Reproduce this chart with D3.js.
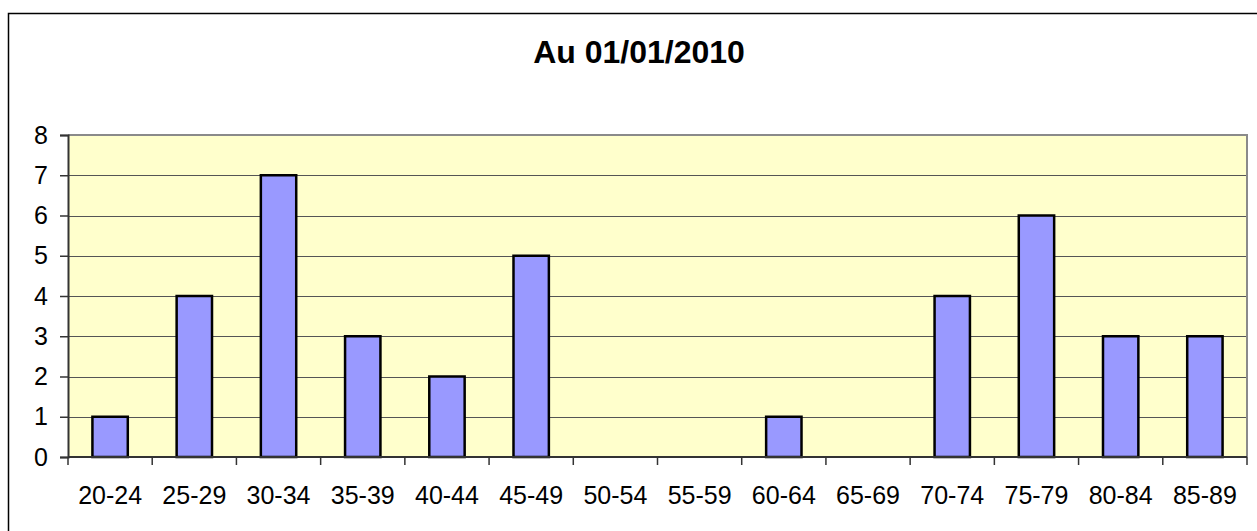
<!DOCTYPE html>
<html>
<head>
<meta charset="utf-8">
<script src="https://cdn.jsdelivr.net/npm/d3@7"></script>
<style>
  body { margin: 0; background: #ffffff; }
  svg { display: block; }
</style>
</head>
<body>
<div id="chart"></div>
<script>
// data
var chartTitle = "Au 01/01/2010";
var ageGroups = ["20-24", "25-29", "30-34", "35-39", "40-44", "45-49", "50-54",
                 "55-59", "60-64", "65-69", "70-74", "75-79", "80-84", "85-89"];
var counts = [1, 4, 7, 3, 2, 5, 0, 0, 1, 0, 4, 6, 3, 3];
var yTicks = [0, 1, 2, 3, 4, 5, 6, 7, 8];

var W = 1257, H = 531;
var plot = { left: 68, right: 1247, top: 135, bottom: 457 };

var svg = d3.select("#chart").append("svg")
    .attr("width", W)
    .attr("height", H);

// outer chart frame (runs off the right and bottom edges)
svg.append("rect")
    .attr("x", 8.5)
    .attr("y", 13.5)
    .attr("width", W + 20)
    .attr("height", H + 20)
    .attr("fill", "none")
    .attr("stroke", "#000000")
    .attr("stroke-width", 1.5);

// title
svg.append("text")
    .attr("x", 639)
    .attr("y", 63)
    .attr("text-anchor", "middle")
    .attr("font-family", "Liberation Sans, Arial, sans-serif")
    .attr("font-size", "32px")
    .attr("font-weight", "bold")
    .attr("fill", "#000000")
    .text(chartTitle);

var x = d3.scaleBand()
    .domain(ageGroups)
    .range([plot.left, plot.right])
    .paddingInner(0.58)
    .paddingOuter(0.29);

var y = d3.scaleLinear()
    .domain([0, 8])
    .range([plot.bottom, plot.top]);

// plot background
svg.append("rect")
    .attr("x", plot.left)
    .attr("y", plot.top)
    .attr("width", plot.right - plot.left)
    .attr("height", plot.bottom - plot.top)
    .attr("fill", "#FFFFCC");

// gridlines
svg.append("g")
    .selectAll("line")
    .data(yTicks.slice(1, -1))
    .join("line")
    .attr("x1", plot.left)
    .attr("x2", plot.right)
    .attr("y1", function(d) { return Math.round(y(d)) + 0.5; })
    .attr("y2", function(d) { return Math.round(y(d)) + 0.5; })
    .attr("stroke", "#555555")
    .attr("stroke-width", 1.2);

// plot border (top / right in grey)
svg.append("path")
    .attr("d", "M" + plot.left + "," + plot.top + "H" + plot.right + "V" + plot.bottom)
    .attr("fill", "none")
    .attr("stroke", "#8a8a8a")
    .attr("stroke-width", 2);

// bars
svg.append("g")
    .selectAll("rect")
    .data(counts)
    .join("rect")
    .attr("x", function(d, i) { return x(ageGroups[i]); })
    .attr("y", function(d) { return y(d); })
    .attr("width", x.bandwidth())
    .attr("height", function(d) { return y(0) - y(d); })
    .attr("fill", "#9999FF")
    .attr("stroke", "#000000")
    .attr("stroke-width", 2.5)
    .attr("display", function(d) { return d > 0 ? null : "none"; });

// y axis
var yAxis = svg.append("g")
    .attr("transform", "translate(" + plot.left + ",0)")
    .call(d3.axisLeft(y).tickValues(yTicks).tickSize(8).tickPadding(12).tickFormat(d3.format("d")));

yAxis.select(".domain")
    .attr("stroke", "#333333")
    .attr("stroke-width", 2);
yAxis.selectAll(".tick line").attr("stroke", "#333333").attr("stroke-width", 1.5);
yAxis.selectAll(".tick text")
    .attr("font-family", "Liberation Sans, Arial, sans-serif")
    .attr("font-size", "25px")
    .attr("fill", "#000000");

// x axis: ticks sit between categories
var step = x.step();
var xBreaks = d3.range(ageGroups.length + 1).map(function(i) { return plot.left + i * step; });

var xAxis = svg.append("g");
xAxis.append("line")
    .attr("x1", plot.left)
    .attr("x2", plot.right)
    .attr("y1", y(0))
    .attr("y2", y(0))
    .attr("stroke", "#333333")
    .attr("stroke-width", 2);

xAxis.selectAll(".xtick")
    .data(xBreaks)
    .join("line")
    .attr("class", "xtick")
    .attr("x1", function(d) { return d; })
    .attr("x2", function(d) { return d; })
    .attr("y1", y(0))
    .attr("y2", y(0) + 8)
    .attr("stroke", "#333333")
    .attr("stroke-width", 1.5);

xAxis.selectAll(".xlabel")
    .data(ageGroups)
    .join("text")
    .attr("class", "xlabel")
    .attr("x", function(d) { return x(d) + x.bandwidth() / 2; })
    .attr("y", 504)
    .attr("text-anchor", "middle")
    .attr("font-family", "Liberation Sans, Arial, sans-serif")
    .attr("font-size", "25px")
    .attr("fill", "#000000")
    .text(function(d) { return d; });
</script>
</body>
</html>
